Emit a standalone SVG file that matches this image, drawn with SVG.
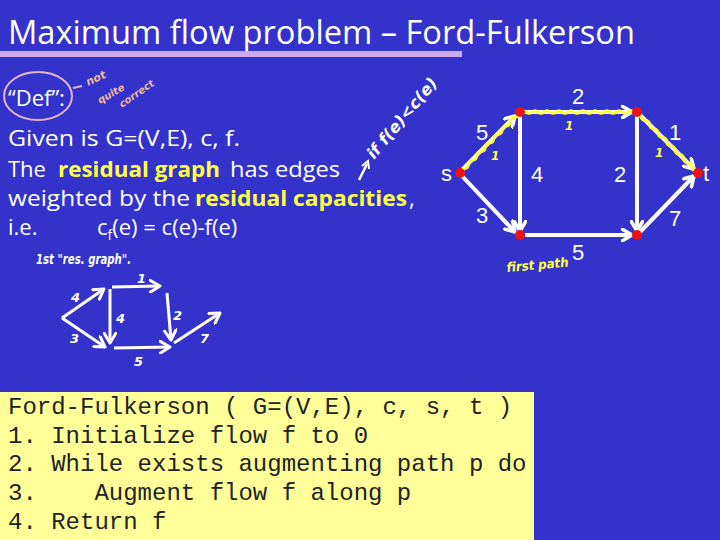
<svg xmlns="http://www.w3.org/2000/svg" width="720" height="540" viewBox="0 0 720 540">
<defs>
<style>
.body{font-family:"Open Sans","DejaVu Sans",sans-serif;font-size:22px;fill:#ffffff}
.hl{font-weight:bold;fill:#ffff44}
.title{font-family:"Open Sans","DejaVu Sans",sans-serif;font-size:32px;fill:#ffffff}
.code{font-family:"Liberation Mono","Courier New",monospace;font-size:24px;fill:#222222}
.lbl{font-family:"Liberation Sans",Arial,sans-serif;font-size:22px;fill:#ffffff}
.hand{font-family:"DejaVu Sans",sans-serif;font-style:italic;font-weight:bold}
.edge{stroke:#ffffff;stroke-width:4;fill:none;marker-end:url(#arr)}
.redge{stroke:#ffffff;stroke-width:3;fill:none;marker-end:url(#arr2)}
.wave{stroke:#ffff44;stroke-width:3;fill:none}
.node{fill:#ee1111}
</style>
<marker id="arr" markerWidth="14" markerHeight="14" refX="11" refY="7" orient="auto" markerUnits="userSpaceOnUse">
<path d="M1,1 L11,7 L1,13" fill="none" stroke="#ffffff" stroke-width="3.5" stroke-linecap="round" stroke-linejoin="round"/>
</marker>
<marker id="arr2" markerWidth="14" markerHeight="14" refX="11" refY="7" orient="auto" markerUnits="userSpaceOnUse">
<path d="M1,1 L11,7 L1,13" fill="none" stroke="#ffffff" stroke-width="3" stroke-linecap="round" stroke-linejoin="round"/>
</marker>
</defs>
<rect x="0" y="0" width="720" height="540" fill="#3333cc"/>

<g id="title">
<text class="title" x="8" y="44" textLength="627" lengthAdjust="spacingAndGlyphs">Maximum flow problem – Ford-Fulkerson</text>
<rect x="0" y="51" width="462" height="6" fill="#ccaaee"/>
</g>

<g id="definition">
<ellipse cx="38" cy="96" rx="34" ry="24" fill="none" stroke="#e8b4c8" stroke-width="2"/>
<text class="body" x="8" y="106" font-size="24">“Def”:</text>
<path d="M73,88 L82,86" stroke="#e8b4c8" stroke-width="2" fill="none"/>
<text class="hand" x="88" y="86" font-size="11" fill="#f0b898" transform="rotate(-25 88 86)">not</text>
<text class="hand" x="100" y="104" font-size="10" fill="#f0b898" transform="rotate(-30 100 104)">quite</text>
<text class="hand" x="122" y="108" font-size="10" fill="#f0b898" transform="rotate(-35 122 108)">correct</text>
<text class="body" x="8" y="146" textLength="232" lengthAdjust="spacingAndGlyphs">Given is G=(V,E), c, f.</text>
<text class="body" x="8" y="177">The</text>
<text class="body hl" x="58" y="177" textLength="162" lengthAdjust="spacingAndGlyphs">residual graph</text>
<text class="body" x="230" y="177" textLength="110" lengthAdjust="spacingAndGlyphs">has edges</text>
<text class="body" x="8" y="206" textLength="182" lengthAdjust="spacingAndGlyphs">weighted by the</text>
<text class="body hl" x="195" y="206" textLength="212" lengthAdjust="spacingAndGlyphs">residual capacities</text>
<text class="body" x="409" y="206">,</text>
<text class="body" x="8" y="235">i.e.</text>
<text class="body" x="97" y="235">c<tspan font-size="14" dy="5">f</tspan><tspan dy="-5">(e) = c(e)-f(e)</tspan></text>
<path d="M359,180 L367,164" stroke="#ffffff" stroke-width="2.5" fill="none"/>
<path d="M362,166 L368,161 L369,169" stroke="#ffffff" stroke-width="2" fill="none"/>
<text class="hand" x="374" y="160" font-size="16" fill="#ffffff" transform="rotate(-50 374 160)" textLength="100" lengthAdjust="spacingAndGlyphs">if f(e)&lt;c(e)</text>
</g>

<g id="connectors">
<line class="edge" x1="462" y1="170" x2="515" y2="116"/>
<line class="edge" x1="462" y1="176" x2="515" y2="232"/>
<line class="edge" x1="524" y1="112" x2="632" y2="112"/>
<line class="edge" x1="520" y1="116" x2="520" y2="231"/>
<line class="edge" x1="637" y1="116" x2="637" y2="231"/>
<line class="edge" x1="525" y1="235" x2="632" y2="235"/>
<line class="edge" x1="640" y1="115" x2="694" y2="169"/>
<line class="edge" x1="640" y1="232" x2="694" y2="176"/>
</g>

<g id="first-path">
<path class="wave" transform="translate(460,173) rotate(-45.5)" d="M0,0 q3,-2.5 6,0 t6,0 t6,0 t6,0 t6,0 t6,0 t6,0 t6,0 t6,0 t6,0 t6,0 t6,0 t6,0 t6,0"/>
<path class="wave" transform="translate(520,112)" d="M0,0 q3,-2.5 6,0 t6,0 t6,0 t6,0 t6,0 t6,0 t6,0 t6,0 t6,0 t6,0 t6,0 t6,0 t6,0 t6,0 t6,0 t6,0 t6,0 t6,0 t6,0 t3,0"/>
<path class="wave" transform="translate(637,112) rotate(45)" d="M0,0 q3,-2.5 6,0 t6,0 t6,0 t6,0 t6,0 t6,0 t6,0 t6,0 t6,0 t6,0 t6,0 t6,0 t6,0 t6,0"/>
<text class="hand" x="491" y="160" font-size="12" fill="#ffff44">1</text>
<text class="hand" x="565" y="130" font-size="12" fill="#ffff44">1</text>
<text class="hand" x="655" y="157" font-size="12" fill="#ffff44">1</text>
<text class="hand" x="507" y="272" font-size="13" fill="#ffff44" transform="rotate(-5 507 272)" textLength="62" lengthAdjust="spacingAndGlyphs">first path</text>
</g>

<g id="node-s"><circle class="node" cx="460" cy="173" r="5"/><text class="lbl" x="441" y="181">s</text></g>
<g id="node-a"><circle class="node" cx="520" cy="112" r="5"/></g>
<g id="node-b"><circle class="node" cx="637" cy="112" r="5"/></g>
<g id="node-c"><circle class="node" cx="520" cy="235" r="5"/></g>
<g id="node-d"><circle class="node" cx="637" cy="235" r="5"/></g>
<g id="node-t"><circle class="node" cx="698" cy="173" r="5"/><text class="lbl" x="703" y="181">t</text></g>

<g id="edge-labels">
<text class="lbl" x="578" y="104" text-anchor="middle">2</text>
<text class="lbl" x="482" y="140" text-anchor="middle">5</text>
<text class="lbl" x="675" y="140" text-anchor="middle">1</text>
<text class="lbl" x="537" y="182" text-anchor="middle">4</text>
<text class="lbl" x="620" y="182" text-anchor="middle">2</text>
<text class="lbl" x="482" y="223" text-anchor="middle">3</text>
<text class="lbl" x="675" y="226" text-anchor="middle">7</text>
<text class="lbl" x="578" y="260" text-anchor="middle">5</text>
</g>

<g id="residual-sketch">
<text class="hand" x="36" y="264" font-size="14" fill="#ffffff" textLength="95" lengthAdjust="spacingAndGlyphs">1st "res. graph".</text>
<line class="redge" x1="62" y1="318" x2="104" y2="289"/>
<line class="redge" x1="62" y1="318" x2="105" y2="347"/>
<line class="redge" x1="110" y1="289" x2="110" y2="343"/>
<line class="redge" x1="112" y1="287" x2="160" y2="286"/>
<line class="redge" x1="167" y1="293" x2="171" y2="340"/>
<line class="redge" x1="114" y1="348" x2="170" y2="347"/>
<line class="redge" x1="174" y1="343" x2="220" y2="313"/>
<text class="hand" x="71" y="302" font-size="13" fill="#ffffff">4</text>
<text class="hand" x="70" y="343" font-size="13" fill="#ffffff">3</text>
<text class="hand" x="116" y="323" font-size="13" fill="#ffffff">4</text>
<text class="hand" x="137" y="283" font-size="13" fill="#ffffff">1</text>
<text class="hand" x="173" y="320" font-size="13" fill="#ffffff">2</text>
<text class="hand" x="134" y="366" font-size="13" fill="#ffffff">5</text>
<text class="hand" x="200" y="343" font-size="13" fill="#ffffff">7</text>
</g>

<g id="algorithm">
<rect x="0" y="392" width="534" height="148" fill="#ffff99"/>
<text class="code" x="8" y="414" xml:space="preserve">Ford-Fulkerson ( G=(V,E), c, s, t )</text>
<text class="code" x="8" y="443" xml:space="preserve">1. Initialize flow f to 0</text>
<text class="code" x="8" y="471" xml:space="preserve">2. While exists augmenting path p do</text>
<text class="code" x="8" y="500" xml:space="preserve">3.    Augment flow f along p</text>
<text class="code" x="8" y="529" xml:space="preserve">4. Return f</text>
</g>
</svg>
